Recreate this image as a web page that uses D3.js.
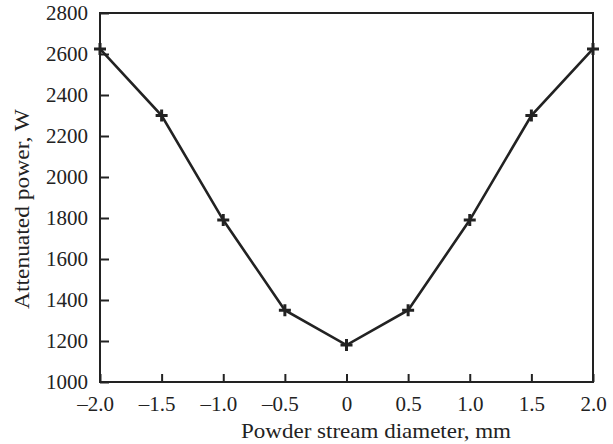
<!DOCTYPE html>
<html>
<head>
    <title>Attenuated power</title>
    <script src="https://d3js.org/d3.v7.min.js"></script>
    <style>
        body { margin: 0; background: #fff; }
    </style>
</head>
<body>
    <svg id="chart" width="613" height="444"></svg>

    <script>
        // data
        var diameter = [-2.0, -1.5, -1.0, -0.5, 0, 0.5, 1.0, 1.5, 2.0]
        var power = [2625, 2300, 1790, 1350, 1180, 1350, 1790, 2300, 2625]
        var xTicks = [-2.0, -1.5, -1.0, -0.5, 0, 0.5, 1.0, 1.5, 2.0]
        var yTicks = [1000, 1200, 1400, 1600, 1800, 2000, 2200, 2400, 2600, 2800]

        var serif = "Liberation Serif"
        var svg = d3.select("#chart")
        var mLeft = 100, mRight = 593, mTop = 13, mBottom = 382

        var x = d3.scaleLinear([-2, 2], [mLeft, mRight])
        var y = d3.scaleLinear([1000, 2800], [mBottom, mTop])

        function fmtX(v) {
            if (v == 0) return "0"
            var s = Math.abs(v).toFixed(1)
            return v < 0 ? "\u2013" + s : s
        }

        // frame
        svg.append("rect")
            .attr("x", mLeft).attr("y", mTop)
            .attr("width", mRight - mLeft).attr("height", mBottom - mTop)
            .attr("fill", "none")
            .attr("stroke", "#222")
            .attr("stroke-width", 2)

        // ticks point inwards
        var xAxis = svg.append("g")
            .attr("transform", "translate(0," + mBottom + ")")
            .call(d3.axisBottom(x).tickValues(xTicks).tickSizeInner(-8).tickSizeOuter(0)
                .tickPadding(14).tickFormat(fmtX))
        var yAxis = svg.append("g")
            .attr("transform", "translate(" + mLeft + ",0)")
            .call(d3.axisLeft(y).tickValues(yTicks).tickSizeInner(-9).tickSizeOuter(0)
                .tickPadding(12).tickFormat(d3.format("d")))

        svg.selectAll(".domain").remove()
        svg.selectAll(".tick line").attr("stroke", "#222").attr("stroke-width", 2)
        svg.selectAll(".tick text")
            .attr("fill", "#222")
            .style("font-family", serif)
            .style("font-size", "21px")
        xAxis.selectAll(".tick text").attr("dx", d => d < 0 ? "-5" : "0")

        // curve
        var pts = diameter.map((d, i) => [d, power[i]])
        svg.append("path")
            .datum(pts)
            .attr("fill", "none")
            .attr("stroke", "#222")
            .attr("stroke-width", 2.6)
            .attr("d", d3.line().x(d => x(d[0])).y(d => y(d[1])))

        // plus markers
        var m = 6
        svg.append("g").selectAll("path")
            .data(pts).enter()
            .append("path")
            .attr("d", d => "M" + (x(d[0]) - m) + "," + y(d[1]) + "H" + (x(d[0]) + m)
                + "M" + x(d[0]) + "," + (y(d[1]) - m) + "V" + (y(d[1]) + m))
            .attr("stroke", "#222")
            .attr("stroke-width", 3)

        // axis titles
        svg.append("text")
            .attr("x", 376).attr("y", 438)
            .attr("text-anchor", "middle")
            .attr("textLength", 270)
            .attr("lengthAdjust", "spacingAndGlyphs")
            .attr("fill", "#222")
            .style("font-family", serif)
            .style("font-size", "21px")
            .text("Powder stream diameter, mm")

        svg.append("text")
            .attr("transform", "translate(29,209) rotate(-90)")
            .attr("text-anchor", "middle")
            .attr("textLength", 200)
            .attr("lengthAdjust", "spacingAndGlyphs")
            .attr("fill", "#222")
            .style("font-family", serif)
            .style("font-size", "21px")
            .text("Attenuated power, W")
    </script>
</body>
</html>
